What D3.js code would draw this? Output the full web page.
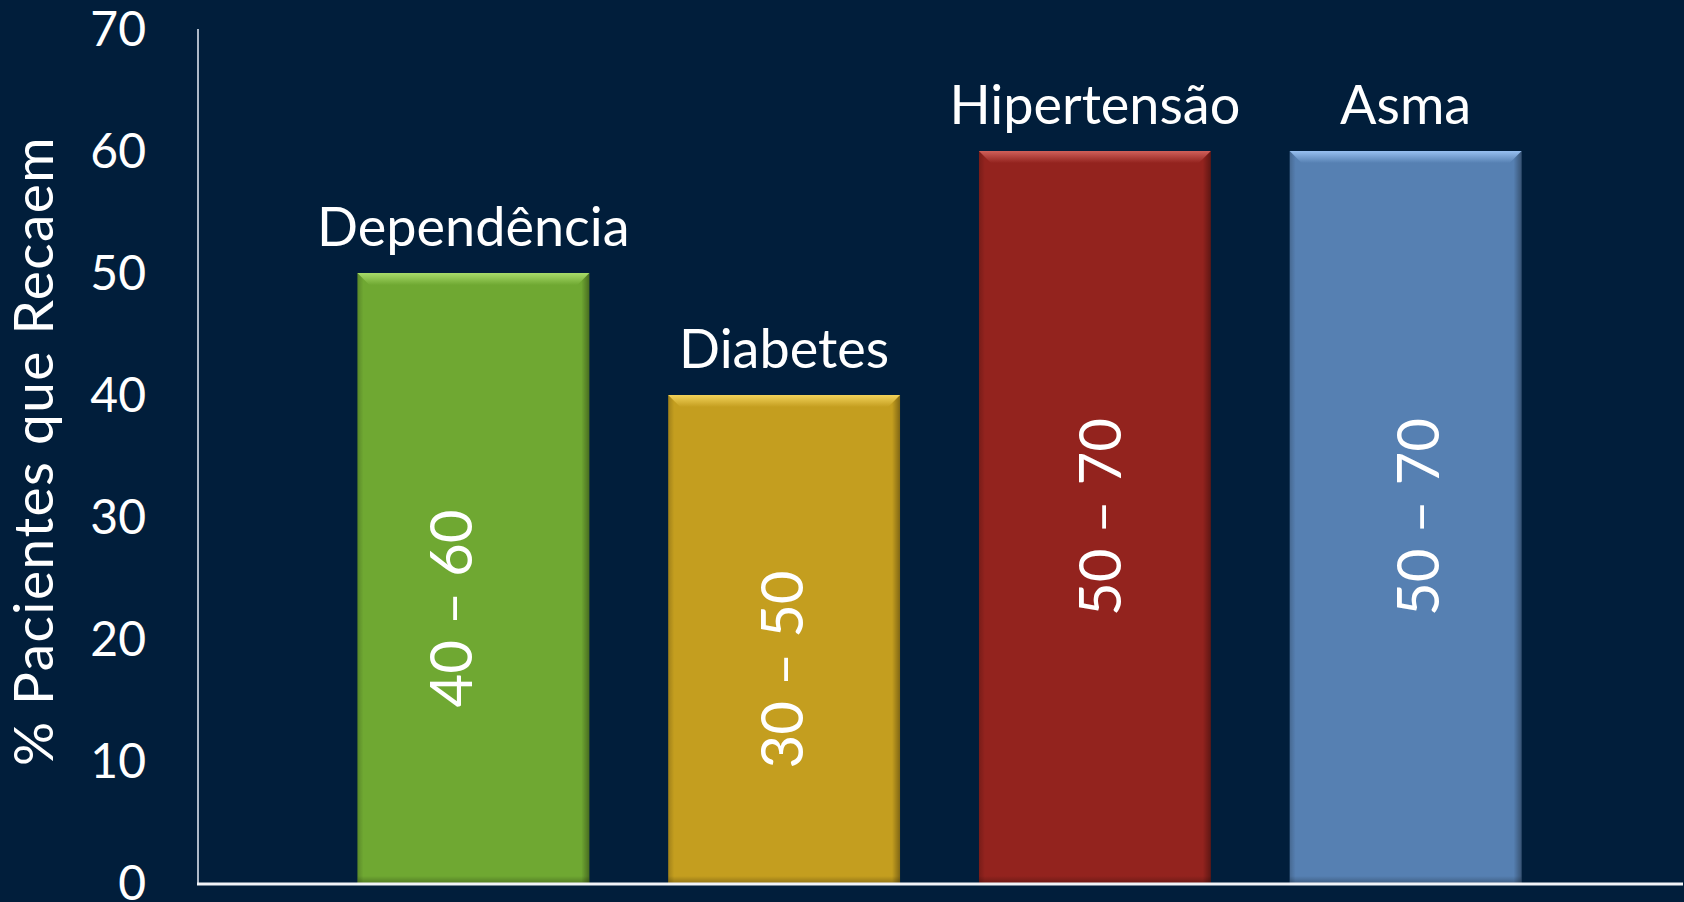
<!DOCTYPE html>
<html>
<head>
<meta charset="utf-8">
<script src="https://cdn.jsdelivr.net/npm/d3@7"></script>
<style>
  html, body { margin: 0; padding: 0; background: #011E3B; }
  svg { display: block; }
  text { font-family: Lato, "Open Sans", sans-serif; fill: #FFFFFF; }
</style>
</head>
<body>
<svg id="chart" width="1684" height="902"></svg>
<script>
// ---- data ----
const categories = ["Dependência", "Diabetes", "Hipertensão", "Asma"];
const values = [50, 40, 60, 60];
const rangeLabels = ["40 – 60", "30 – 50", "50 – 70", "50 – 70"];
const yTicks = [0, 10, 20, 30, 40, 50, 60, 70];
const yTitle = "% Pacientes que Recaem";

// ---- layout / style ----
const barColors = ["#6FA832", "#C49E1F", "#93231E", "#5680B2"];
const bevelColors = ["#A8DC6A", "#F2D25A", "#D0605A", "#98C0F0"];
const labelCenterValue = [22.5, 17.5, 30, 30]; // vertical centre of the in-bar label (axis units)
const labelDx = [-22, -2, 5, 12];

const W = 1684, H = 902;
const svg = d3.select("#chart");
svg.append("rect").attr("width", W).attr("height", H).attr("fill", "#011E3B");

const y = d3.scaleLinear().domain([0, 70]).range([883, 29]);
const x = d3.scaleBand().domain(categories).range([318, 1561])
  .paddingInner(0.254).paddingOuter(0.127);

const defs = svg.append("defs");
categories.forEach((c, i) => {
  const g = defs.append("linearGradient").attr("id", "bev" + i)
    .attr("x1", 0).attr("y1", 0).attr("x2", 0).attr("y2", 1);
  g.append("stop").attr("offset", "0%").attr("stop-color", bevelColors[i]);
  g.append("stop").attr("offset", "100%").attr("stop-color", barColors[i]);
});
const rg = defs.append("linearGradient").attr("id", "rightShade")
  .attr("x1", 0).attr("y1", 0).attr("x2", 1).attr("y2", 0);
rg.append("stop").attr("offset", "0%").attr("stop-color", "#000").attr("stop-opacity", 0);
rg.append("stop").attr("offset", "100%").attr("stop-color", "#000").attr("stop-opacity", 0.35);
const lg = defs.append("linearGradient").attr("id", "leftShade")
  .attr("x1", 1).attr("y1", 0).attr("x2", 0).attr("y2", 0);
lg.append("stop").attr("offset", "0%").attr("stop-color", "#000").attr("stop-opacity", 0);
lg.append("stop").attr("offset", "100%").attr("stop-color", "#000").attr("stop-opacity", 0.18);
const bg = defs.append("linearGradient").attr("id", "bottomShade")
  .attr("x1", 0).attr("y1", 0).attr("x2", 0).attr("y2", 1);
bg.append("stop").attr("offset", "0%").attr("stop-color", "#000").attr("stop-opacity", 0);
bg.append("stop").attr("offset", "100%").attr("stop-color", "#000").attr("stop-opacity", 0.25);

// ---- bars ----
const bars = svg.append("g").selectAll("g").data(categories).join("g");
bars.append("rect")
  .attr("x", d => x(d)).attr("y", (d, i) => y(values[i]))
  .attr("width", x.bandwidth()).attr("height", (d, i) => y(0) - y(values[i]))
  .attr("fill", (d, i) => barColors[i]);
// side shading
bars.append("rect")
  .attr("x", d => x(d) + x.bandwidth() - 8).attr("y", (d, i) => y(values[i]))
  .attr("width", 8).attr("height", (d, i) => y(0) - y(values[i]))
  .attr("fill", "url(#rightShade)");
bars.append("rect")
  .attr("x", d => x(d)).attr("y", (d, i) => y(values[i]))
  .attr("width", 6).attr("height", (d, i) => y(0) - y(values[i]))
  .attr("fill", "url(#leftShade)");
bars.append("rect")
  .attr("x", d => x(d)).attr("y", d => y(0) - 7)
  .attr("width", x.bandwidth()).attr("height", 7)
  .attr("fill", "url(#bottomShade)");
// top bevel
const bev = 12;
bars.append("polygon")
  .attr("points", (d, i) => {
    const x0 = x(d), x1 = x(d) + x.bandwidth(), t = y(values[i]);
    return [[x0, t], [x1, t], [x1 - bev, t + bev], [x0 + bev, t + bev]].map(p => p.join(",")).join(" ");
  })
  .attr("fill", (d, i) => "url(#bev" + i + ")");

// category labels above bars
bars.append("text")
  .attr("x", d => x(d) + x.bandwidth() / 2)
  .attr("y", (d, i) => y(values[i]) - 27)
  .attr("text-anchor", "middle")
  .attr("font-size", 54)
  .text(d => d);

// range labels inside bars
bars.append("text")
  .attr("transform", (d, i) => `translate(${x(d) + x.bandwidth() / 2 + labelDx[i]},${y(labelCenterValue[i])}) rotate(-90)`)
  .attr("text-anchor", "middle")
  .attr("dy", "0.36em")
  .attr("font-size", 58)
  .text((d, i) => rangeLabels[i]);

// ---- axes ----
svg.append("line").attr("x1", 198).attr("x2", 198).attr("y1", y(70)).attr("y2", y(0))
  .attr("stroke", "#AEB9C8").attr("stroke-width", 2);
svg.append("line").attr("x1", 197).attr("x2", 1683).attr("y1", y(0) + 1).attr("y2", y(0) + 1)
  .attr("stroke", "#F2F4F8").attr("stroke-width", 3);

svg.append("g").selectAll("text").data(yTicks).join("text")
  .attr("x", 146).attr("y", d => y(d)).attr("dy", "0.36em")
  .attr("text-anchor", "end").attr("font-size", 48)
  .text(d => d);

svg.append("text")
  .attr("transform", `translate(53,451) rotate(-90)`)
  .attr("text-anchor", "middle").attr("font-size", 55)
  .attr("letter-spacing", 1.5)
  .text(yTitle);
</script>
</body>
</html>
